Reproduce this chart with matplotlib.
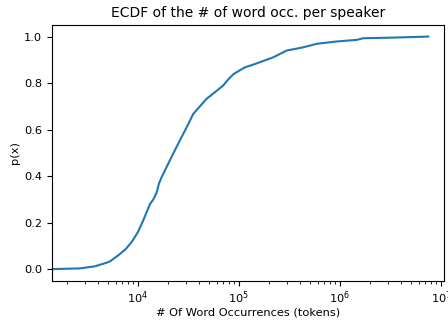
import matplotlib
matplotlib.use("Agg")
import matplotlib.pyplot as plt

# word occurrences per speaker (tokens) and the cumulative probability
occurrences = [1200, 2667, 3750, 4710, 5284, 6380, 7500, 8670, 10000, 11280,
               13150, 14200, 15310, 16200, 17170, 19960, 22500, 25060, 30350,
               35300, 41000, 47900, 57800, 69900, 78000, 87900, 100000,
               114700, 135000, 161400, 218600, 296600, 433500, 587500, 927000,
               1462000, 1702000, 2900000, 7480000]
p_x = [0.0, 0.004, 0.013, 0.026, 0.034, 0.06, 0.085, 0.117, 0.16, 0.21,
       0.28, 0.30, 0.33, 0.37, 0.396, 0.454, 0.50, 0.54, 0.61,
       0.668, 0.70, 0.733, 0.761, 0.79, 0.815, 0.838, 0.853,
       0.868, 0.878, 0.89, 0.911, 0.94, 0.954, 0.969, 0.979,
       0.986, 0.993, 0.995, 1.0]

plt.rcParams['font.size'] = 8.2

fig = plt.figure(figsize=(4.48, 3.2), dpi=100)
ax = fig.add_subplot(111)
ax.plot(occurrences, p_x, color="#1f77b4", linewidth=1.5)
ax.set_xscale("log")
ax.set_xlim(1410, 1.07e7)
ax.set_ylim(-0.05, 1.05)
ax.tick_params(axis="x", pad=2.5)
ax.set_title("ECDF of the # of word occ. per speaker", fontsize=10)
ax.set_xlabel("# Of Word Occurrences (tokens)", labelpad=1)
ax.set_ylabel("p(x)", labelpad=3)
fig.subplots_adjust(left=0.116, right=0.991, bottom=0.122, top=0.922)
fig.savefig("out.png", dpi=100)
